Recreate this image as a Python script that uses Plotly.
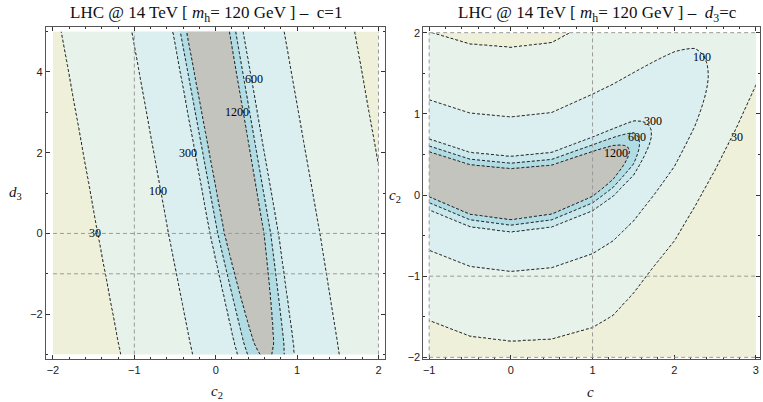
import numpy as np
import plotly.graph_objects as go

# ---- contour levels and the profile distance of each level from the ridge ----
levels = [30, 100, 300, 600, 1200]
level_dist = [1.80, 0.935, 0.43, 0.34, 0.265]

# ---- left panel (c = 1): ridge line c2 = m(d3), offset E(d3) ----
left_d3_knots = [-3.0, -2.7, 0.0, 5.0]
left_center = [0.617, 0.59, 0.35, -0.095]
left_offset = [0.065, 0.055, 0.01, 0.0]

# ---- right panel (d3 = c): ridge c2 = m(c), offset E(c), widths ----
right_c_knots = [-1.0, -0.5, 0.0, 0.5, 1.0, 1.25, 1.5, 1.75, 2.0, 2.25, 2.5, 2.75, 3.0]
right_center = [0.26, 0.07, 0.01, 0.07, 0.26, 0.40, 0.57, 0.78, 1.01, 1.28, 1.57, 1.90, 2.26]
right_offset = [-0.01, -0.025, -0.03, -0.02, 0.0, 0.03, 0.08, 0.2, 0.37, 0.63, 1.0, 1.38, 1.8]
right_scale_up = [0.97, 0.99, 1.0, 1.0, 1.05, 1.05, 1.05, 1.05, 1.06, 1.06, 1.05, 1.0, 1.0]
right_scale_dn = [1.0, 1.0, 1.0, 1.02, 1.05, 1.05, 1.0, 0.95, 0.93, 0.88, 0.84, 0.8, 0.75]

# ---- contour labels ----
left_labels = ["30", "100", "300", "1200", "600"]
left_label_x = [-1.48, -0.71, -0.34, 0.26, 0.47]
left_label_y = [0.0, 1.05, 2.0, 3.0, 3.82]
right_labels = ["100", "300", "600", "1200", "30"]
right_label_x = [2.34, 1.74, 1.55, 1.29, 2.77]
right_label_y = [1.70, 0.91, 0.72, 0.52, 0.72]

band_colors = ["#eef0da", "#e6f2ea", "#dbeff0", "#cbe8ed", "#b2dce4", "#c4c4bf"]


def level_index(u, E):
    D = np.sqrt(np.clip(u ** 2 + E, 0, None))
    xp = [0.0] + level_dist[::-1] + [6.0]
    fp = [6, 5, 4, 3, 2, 1, 0]
    return np.interp(D, xp, fp)


# left field
c2L = np.linspace(-2, 2, 401)
d3L = np.linspace(-3, 5, 401)
C2L, D3L = np.meshgrid(c2L, d3L)
mL = np.interp(D3L, left_d3_knots, left_center)
EL = np.interp(D3L, left_d3_knots, left_offset)
zL = level_index(C2L - mL, EL)

# right field
cR = np.linspace(-1, 3, 401)
c2R = np.linspace(-2, 2, 401)
CR, C2R = np.meshgrid(cR, c2R)
mR = np.interp(CR, right_c_knots, right_center)
ER = np.interp(CR, right_c_knots, right_offset)
uR = C2R - mR
sR = np.where(uR >= 0, np.interp(CR, right_c_knots, right_scale_up),
              np.interp(CR, right_c_knots, right_scale_dn))
zR = level_index(uR / sR, ER)

cs = [[i / 5, col] for i, col in enumerate(band_colors)]
contours = dict(start=1, end=5, size=1, coloring="fill", showlabels=False)
line = dict(color="black", width=1, dash="3px,2px")

fig = go.Figure()
fig.add_trace(go.Contour(x=c2L, y=d3L, z=zL, colorscale=cs, contours=contours,
                         line=line, showscale=False, hoverinfo="skip",
                         xaxis="x", yaxis="y"))
fig.add_trace(go.Contour(x=cR, y=c2R, z=zR, colorscale=cs, contours=contours,
                         line=line, showscale=False, hoverinfo="skip",
                         xaxis="x2", yaxis="y2"))

tickfont = dict(family="Liberation Sans", size=11, color="#222")
common = dict(showgrid=False, zeroline=False, ticks="inside", ticklen=4,
              tickcolor="#333", showline=True, linecolor="#555", linewidth=1,
              mirror="ticks", tickfont=tickfont)
ydom = [1 - 363 / 402, 1 - 27 / 402]
fig.update_layout(
    width=763, height=402, margin=dict(l=0, r=0, t=0, b=0),
    paper_bgcolor="white", plot_bgcolor="white", showlegend=False,
    xaxis=dict(domain=[45 / 763, 385 / 763], range=[-2.086, 2.086], tickvals=[-2, -1, 0, 1, 2],
               ticktext=["\u22122", "\u22121", "0", "1", "2"],
               minor=dict(dtick=0.2, ticks="inside", ticklen=2, tickcolor="#333"), anchor="y", **common),
    yaxis=dict(domain=ydom, range=[-3.12, 5.12], tickvals=[-2, 0, 2, 4],
               ticktext=["\u22122", "0", "2", "4"],
               minor=dict(dtick=1, ticks="inside", ticklen=2, tickcolor="#333"), anchor="x", **common),
    xaxis2=dict(domain=[423 / 763, 760 / 763], range=[-1.07, 3.05], tickvals=[-1, 0, 1, 2, 3],
                ticktext=["\u22121", "0", "1", "2", "3"],
                minor=dict(dtick=0.2, ticks="inside", ticklen=2, tickcolor="#333"), anchor="y2", **common),
    yaxis2=dict(domain=ydom, range=[-2.025, 2.073], tickvals=[-2, -1, 0, 1, 2],
                ticktext=["\u22122", "\u22121", "0", "1", "2"],
                minor=dict(dtick=0.5, ticks="inside", ticklen=2, tickcolor="#333"), anchor="x2", **common),
)

serif = "Liberation Serif"
ann = []
lab_font = dict(family=serif, size=12, color="#000000")
for t, x, y in zip(left_labels, left_label_x, left_label_y):
    ann.append(dict(text=t, x=x, y=y, xref="x", yref="y", showarrow=False, font=lab_font))
for t, x, y in zip(right_labels, right_label_x, right_label_y):
    ann.append(dict(text=t, x=x, y=y, xref="x2", yref="y2", showarrow=False, font=lab_font))

title_font = dict(family=serif, size=17, color="#111")
paper_txt = [
    ("LHC @ 14 TeV [ <i>m</i><sub>h</sub>= 120 GeV ] \u2013  c=1", 205, 14, title_font),
    ("LHC @ 14 TeV [ <i>m</i><sub>h</sub>= 120 GeV ] \u2013  <i>d</i><sub>3</sub>=c", 597, 14, title_font),
]
axfont = dict(family=serif, size=15, color="#111")
paper_txt += [
    ("<i>d</i><sub>3</sub>", 15, 195, axfont),
    ("<i>c</i><sub>2</sub>", 216, 396, axfont),
    ("<i>c</i><sub>2</sub>", 395, 198, axfont),
    ("<i>c</i>", 590, 396, axfont),
]
for t, px, py, f in paper_txt:
    ann.append(dict(text=t, x=px / 763, y=1 - py / 402, xref="paper", yref="paper",
                    xanchor="center", yanchor="middle", showarrow=False, font=f))
fig.update_layout(annotations=ann)

# dashed guide lines
grid = dict(color="#9a9a9a", width=1, dash="4px,3px")
shapes = []
for xv in [-1, 2]:
    shapes.append(dict(type="line", xref="x", yref="y", x0=xv, x1=xv, y0=-3, y1=5, line=grid, layer="above"))
for yv in [0, -1]:
    shapes.append(dict(type="line", xref="x", yref="y", x0=-2, x1=2, y0=yv, y1=yv, line=grid, layer="above"))
for xv in [-1, 1]:
    shapes.append(dict(type="line", xref="x2", yref="y2", x0=xv, x1=xv, y0=-2, y1=2, line=grid, layer="above"))
for yv in [2, -1, -2]:
    shapes.append(dict(type="line", xref="x2", yref="y2", x0=-1, x1=3, y0=yv, y1=yv, line=grid, layer="above"))
fig.update_layout(shapes=shapes)

fig.write_html("out.html")
